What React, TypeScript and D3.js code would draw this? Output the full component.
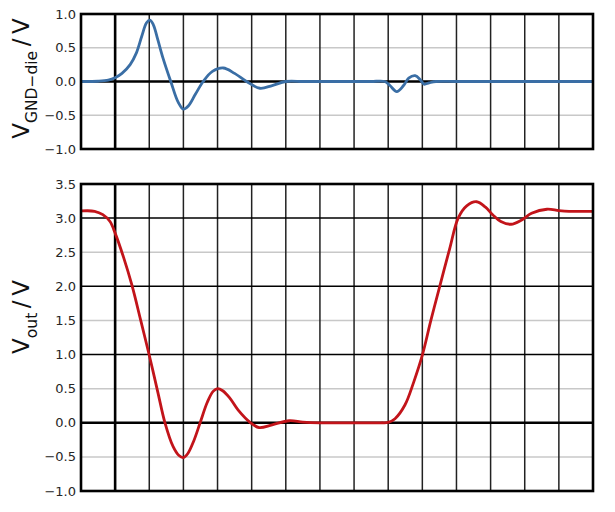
import React from 'react';
import * as d3 from 'd3';

// ---- data ----
const timeTop = [-1, -0.5, -0.2, 0, 0.2, 0.44, 0.62, 0.78, 0.92, 1.02, 1.12, 1.25, 1.4, 1.63, 1.85, 2.0, 2.15, 2.35, 2.58, 2.85, 3.17, 3.5, 3.85, 4.24, 4.6, 5.0, 5.5, 6.0, 6.5, 7.0, 7.5, 7.9, 8.05, 8.25, 8.45, 8.6, 8.79, 8.95, 9.05, 9.2, 9.4, 10, 11, 12, 13, 14];
const vGnd = [0, 0.004, 0.02, 0.056, 0.12, 0.25, 0.42, 0.67, 0.87, 0.91, 0.84, 0.62, 0.35, 0, -0.31, -0.41, -0.36, -0.19, 0, 0.15, 0.2, 0.12, 0, -0.1, -0.06, 0, 0, 0, 0, 0, 0, 0, -0.06, -0.15, -0.06, 0.05, 0.086, 0.02, -0.04, -0.02, 0, 0, 0, 0, 0, 0];

const timeBottom = [-1, -0.6, -0.36, -0.15, 0, 0.25, 0.49, 0.75, 1.0, 1.25, 1.46, 1.7, 1.87, 2.0, 2.13, 2.3, 2.49, 2.7, 2.87, 3.0, 3.15, 3.35, 3.6, 3.97, 4.22, 4.6, 5.1, 5.5, 6.0, 6.5, 7.0, 7.5, 7.8, 8.0, 8.2, 8.49, 8.75, 9.0, 9.25, 9.51, 9.8, 10.05, 10.3, 10.59, 10.85, 11.06, 11.3, 11.6, 11.9, 12.2, 12.65, 13.0, 13.3, 14];
const vOut = [3.105, 3.1, 3.05, 2.95, 2.78, 2.42, 2.02, 1.5, 0.99, 0.45, 0, -0.35, -0.48, -0.51, -0.45, -0.27, 0, 0.3, 0.46, 0.5, 0.47, 0.37, 0.19, 0, -0.07, -0.03, 0.03, 0.01, 0, 0, 0, 0, 0, 0.005, 0.06, 0.26, 0.6, 0.99, 1.5, 2.0, 2.55, 3.0, 3.18, 3.24, 3.16, 3.05, 2.95, 2.91, 2.97, 3.07, 3.13, 3.11, 3.1, 3.1];

const xGrid = [0, 1, 2, 3, 4, 5, 6, 7, 8, 9, 10, 11, 12, 13];
const topYTicks = [1.0, 0.5, 0.0, -0.5, -1.0];
const bottomYTicks = [3.5, 3.0, 2.5, 2.0, 1.5, 1.0, 0.5, 0.0, -0.5, -1.0];

const X0 = 81, X1 = 593;
const FONT = 'DejaVu Sans, sans-serif';

const fmt = (v: number) => (v < 0 ? '\u2212' : '') + Math.abs(v).toFixed(1);

function Panel({ y0, y1, yDomain, ticks, xs, ys, color, sub, labelY }: any) {
  const x = d3.scaleLinear().domain([-1, 14]).range([X0, X1]);
  const y = d3.scaleLinear().domain(yDomain).range([y1, y0]);
  const line = d3.line<number>().x((_, i) => x(xs[i])).y((d) => y(d)).curve(d3.curveCatmullRom.alpha(0.5));
  const inner = ticks.filter((t: number) => t > yDomain[0] && t < yDomain[1]);
  return (
    <g>
      {inner.filter((t: number) => Math.abs(t % 1) > 0.01).map((t: number) => (
        <line key={'h' + t} x1={X0} x2={X1} y1={y(t)} y2={y(t)} stroke="#c8c8c8" strokeWidth={1.5} />
      ))}
      {xGrid.map((t) => (
        <line key={'v' + t} x1={x(t)} x2={x(t)} y1={y0} y2={y1} stroke={t === 0 ? '#000' : '#222'} strokeWidth={t === 0 ? 2.6 : 1.5} />
      ))}
      {inner.filter((t: number) => Math.abs(t % 1) <= 0.01).map((t: number) => (
        <line key={'m' + t} x1={X0} x2={X1} y1={y(t)} y2={y(t)} stroke="#000" strokeWidth={t === 0 ? 2.6 : 1.5} />
      ))}
      <path d={line(ys) || ''} fill="none" stroke={color} strokeWidth={2.8} strokeLinejoin="round" />
      <rect x={X0} y={y0} width={X1 - X0} height={y1 - y0} fill="none" stroke="#000" strokeWidth={2.6} />
      {ticks.map((t: number) => (
        <text key={'l' + t} x={76} y={y(t)} dy="0.35em" textAnchor="end" fontFamily={FONT} fontSize={13} fill="#262626">{fmt(t)}</text>
      ))}
      <text transform={`translate(28.5,${labelY}) rotate(-90)`} textAnchor="middle" fontFamily={FONT} fontSize={23} fill="#111">
        V<tspan fontSize={15.5} dy={8}>{sub}</tspan><tspan dy={-8}>{'\u2009/\u2009V'}</tspan>
      </text>
    </g>
  );
}

export default function App() {
  return (
    <svg width={615} height={512} style={{ position: 'absolute', left: 0, top: 0, background: '#fff' }}>
      <rect x={0} y={0} width={615} height={512} fill="#fff" />
      <Panel y0={14} y1={149} yDomain={[-1, 1]} ticks={topYTicks} xs={timeTop} ys={vGnd} color="#3a6ea5" sub={'GND\u2212die'} labelY={78.5} />
      <Panel y0={184} y1={491} yDomain={[-1, 3.5]} ticks={bottomYTicks} xs={timeBottom} ys={vOut} color="#c2141a" sub={'out'} labelY={317} />
    </svg>
  );
}
